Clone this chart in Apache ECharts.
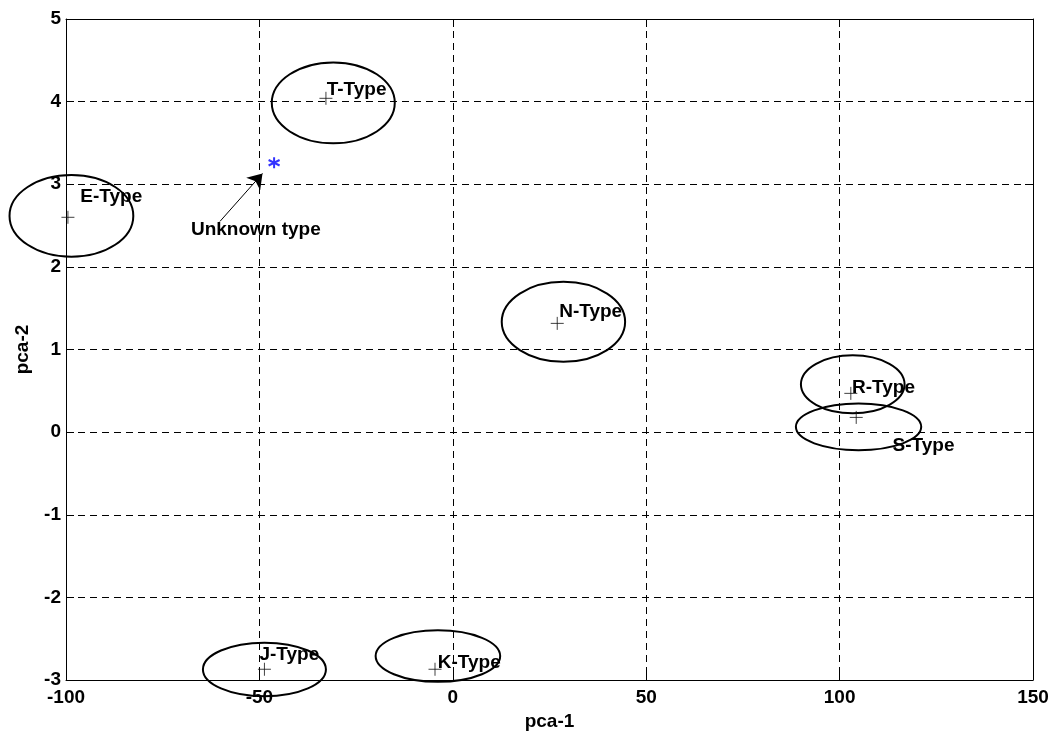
<!DOCTYPE html>
<html>
<head>
<meta charset="utf-8">
<script src="https://cdn.jsdelivr.net/npm/echarts@6/dist/echarts.min.js"></script>
<style>
  html, body { margin: 0; padding: 0; background: #fff; }
  #chart { width: 1061px; height: 737px; }
</style>
</head>
<body>
<div id="chart"></div>
<script>
// PCA scores: cluster centroids, cluster ellipses and one unclassified sample
const typeNames = ['T-Type', 'E-Type', 'N-Type', 'R-Type', 'S-Type', 'J-Type', 'K-Type'];
const centroidX = [-32.8, -99.5, 27.0, 102.9, 104.3, -48.7, -4.6];
const centroidY = [4.04, 2.60, 1.316, 0.469, 0.178, -2.87, -2.87];

// ellipse centre and semi-axes (data units)
const ellipseCx = [-30.9, -98.6, 28.6, 103.4, 104.9, -48.7, -3.85];
const ellipseCy = [3.985, 2.617, 1.335, 0.579, 0.064, -2.872, -2.71];
const ellipseRx = [15.9, 16.0, 15.95, 13.4, 16.2, 15.9, 16.1];
const ellipseRy = [0.49, 0.494, 0.484, 0.351, 0.282, 0.324, 0.312];

// text anchors (data units, left-aligned, vertically centred)
const labelX = [-32.6, -96.3, 27.5, 103.2, 113.7, -50.0, -3.9];
const labelY = [4.14, 2.85, 1.457, 0.536, -0.17, -2.70, -2.79];

// unclassified sample and its annotation
const unknownPoint = [-46.2, 3.26];
const arrowFrom = [-60.2, 2.55];
const arrowTo = [-49.2, 3.13];
const unknownLabel = 'Unknown type';
const unknownLabelAt = [-67.7, 2.45];

// axes
const xMin = -100, xMax = 150, xStep = 50;
const yMin = -3, yMax = 5, yStep = 1;
const xName = 'pca-1', yName = 'pca-2';

const FONT = 'Liberation Sans, Arial, Helvetica, sans-serif';

const crossData = centroidX.map((x, i) => [x, centroidY[i]]);
const ellipseData = ellipseCx.map((x, i) => [x, ellipseCy[i], ellipseRx[i], ellipseRy[i]]);
const labelData = labelX.map((x, i) => [x, labelY[i], typeNames[i]]);
labelData.push([unknownLabelAt[0], unknownLabelAt[1], unknownLabel]);

const gridLine = { show: true, lineStyle: { color: '#000', type: [7, 5], width: 1 } };
const axisTextStyle = { color: '#000', fontFamily: FONT, fontWeight: 'bold', fontSize: 19 };

const chart = echarts.init(document.getElementById('chart'), null, { renderer: 'canvas' });

chart.setOption({
  animation: false,
  backgroundColor: '#fff',
  grid: { left: 66, right: 28, top: 19, bottom: 57, containLabel: false },
  xAxis: [
    {
      type: 'value', min: xMin, max: xMax, interval: xStep, position: 'bottom',
      axisLine: { show: true, onZero: false, lineStyle: { color: '#000', width: 1 } },
      axisTick: { show: true, inside: true, length: 8, lineStyle: { color: '#000' } },
      axisLabel: Object.assign({ margin: 8 }, axisTextStyle),
      splitLine: gridLine,
      name: xName, nameLocation: 'middle', nameGap: 28,
      nameTextStyle: axisTextStyle
    },
    {
      type: 'value', min: xMin, max: xMax, interval: xStep, position: 'top',
      axisLine: { show: true, onZero: false, lineStyle: { color: '#000', width: 1 } },
      axisTick: { show: true, inside: true, length: 8, lineStyle: { color: '#000' } },
      axisLabel: { show: false }, splitLine: { show: false }
    }
  ],
  yAxis: [
    {
      type: 'value', min: yMin, max: yMax, interval: yStep, position: 'left',
      axisLine: { show: true, onZero: false, lineStyle: { color: '#000', width: 1 } },
      axisTick: { show: true, inside: true, length: 8, lineStyle: { color: '#000' } },
      axisLabel: Object.assign({ margin: 5 }, axisTextStyle),
      splitLine: gridLine,
      name: yName, nameLocation: 'middle', nameGap: 34, nameRotate: 90,
      nameTextStyle: axisTextStyle
    },
    {
      type: 'value', min: yMin, max: yMax, interval: yStep, position: 'right',
      axisLine: { show: true, onZero: false, lineStyle: { color: '#000', width: 1 } },
      axisTick: { show: true, inside: true, length: 8, lineStyle: { color: '#000' } },
      axisLabel: { show: false }, splitLine: { show: false }
    }
  ],
  series: [
    {
      // cluster ellipses, drawn over the frame
      type: 'custom',
      xAxisIndex: 0, yAxisIndex: 0,
      clip: false,
      z: 5,
      data: ellipseData,
      renderItem: function (params, api) {
        const c = api.coord([api.value(0), api.value(1)]);
        const s = api.size([api.value(2), api.value(3)]);
        const rx = s[0], ry = s[1];
        return {
          type: 'path',
          shape: {
            pathData: 'M' + (c[0] - rx) + ' ' + c[1] +
              ' A' + rx + ' ' + ry + ' 0 1 0 ' + (c[0] + rx) + ' ' + c[1] +
              ' A' + rx + ' ' + ry + ' 0 1 0 ' + (c[0] - rx) + ' ' + c[1] + ' Z'
          },
          style: { fill: null, stroke: '#000', lineWidth: 2 }
        };
      }
    },
    {
      // centroid markers
      type: 'scatter',
      xAxisIndex: 0, yAxisIndex: 0,
      z: 6,
      symbol: 'path://M0,6H12M6,0V12',
      symbolSize: 13,
      itemStyle: { color: 'rgba(0,0,0,0)', borderColor: '#111', borderWidth: 1 },
      data: crossData
    },
    {
      // unclassified sample
      type: 'scatter',
      xAxisIndex: 0, yAxisIndex: 0,
      z: 6,
      symbol: 'path://M5,0V10M0.67,2.5L9.33,7.5M0.67,7.5L9.33,2.5',
      symbolSize: 11,
      itemStyle: { color: 'rgba(0,0,0,0)', borderColor: '#0000ff', borderWidth: 2 },
      data: [unknownPoint]
    },
    {
      // arrow pointing at the unclassified sample
      type: 'lines',
      coordinateSystem: 'cartesian2d',
      xAxisIndex: 0, yAxisIndex: 0,
      z: 6,
      symbol: ['none', 'arrow'],
      symbolSize: [11, 14],
      lineStyle: { color: '#000', width: 1, opacity: 1 },
      data: [{ coords: [arrowFrom, arrowTo] }]
    },
    {
      // text annotations
      type: 'custom',
      xAxisIndex: 0, yAxisIndex: 0,
      clip: false,
      z: 7,
      data: labelData,
      renderItem: function (params, api) {
        const p = api.coord([api.value(0), api.value(1)]);
        return {
          type: 'text',
          x: p[0], y: p[1],
          style: {
            text: labelData[params.dataIndex][2],
            fill: '#000',
            font: 'bold 19px ' + FONT,
            align: 'left',
            verticalAlign: 'middle'
          }
        };
      }
    }
  ]
});
</script>
</body>
</html>
